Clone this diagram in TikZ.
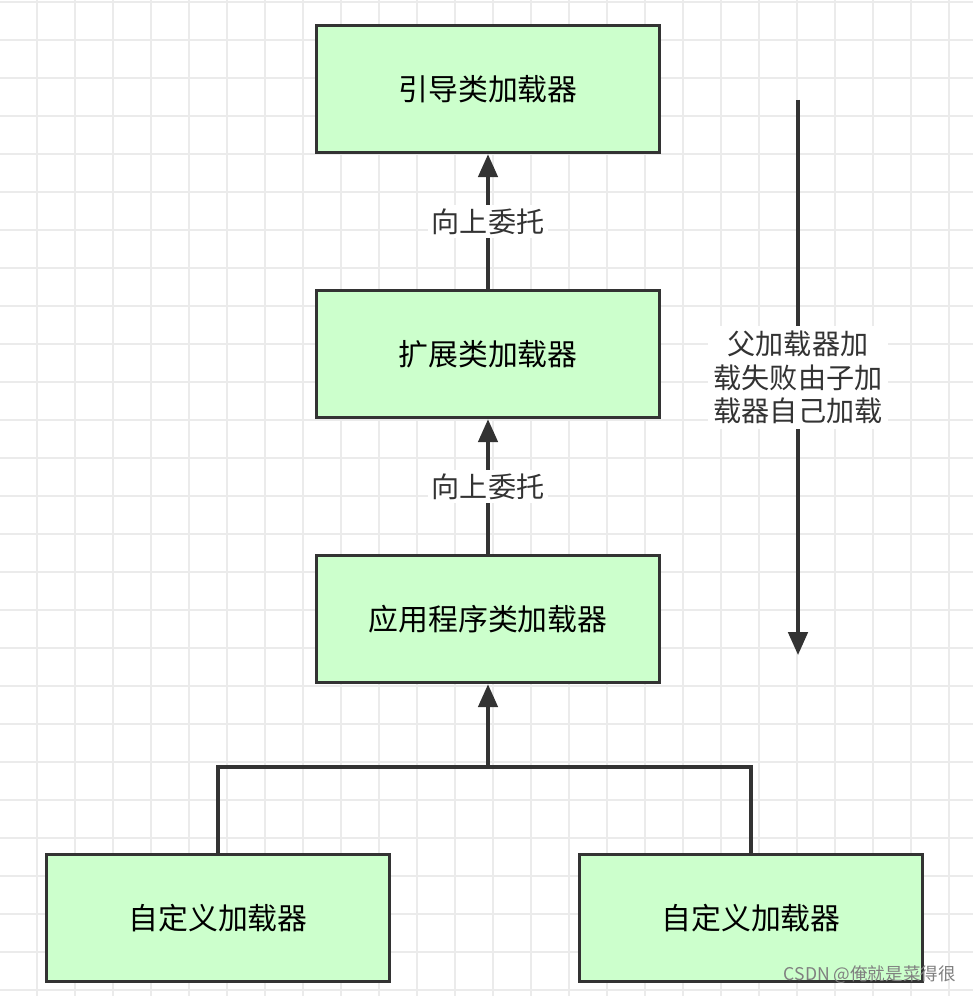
\documentclass[tikz,border=0pt]{standalone}
\usepackage{fontspec}
\setmainfont{Noto Sans CJK SC}
\usetikzlibrary{arrows.meta, positioning}
\definecolor{boxfill}{HTML}{CCFFCC}
\definecolor{boxline}{HTML}{333333}
\definecolor{gridline}{HTML}{EBEBEB}
\tikzset{
  loader/.style={draw=boxline, fill=boxfill, line width=2pt, minimum width=6.86cm, minimum height=2.54cm, font=\fontsize{17}{19}\selectfont},
  link/.style={draw=boxline, line width=2pt},
  up/.style={link, -{Triangle[length=13pt, width=11pt]}},
  tag/.style={fill=white, inner sep=2pt, font=\fontsize{16}{19}\selectfont, text=boxline}
}
\begin{document}
\begin{tikzpicture}[x=0.02cm, y=-0.02cm]
    \useasboundingbox (0,0) rectangle (973,996);
    \fill[white] (0,0) rectangle (973,996);
    % background grid
    \foreach \gx in {0,...,25} \draw[gridline, line width=0.8pt] (37+38*\gx,0) -- (37+38*\gx,996);
    \foreach \gy in {0,...,26} \draw[gridline, line width=0.8pt] (0,2+38*\gy) -- (973,2+38*\gy);

    \node[loader] (boot) at (488,89) {引导类加载器};
    \node[loader] (ext) at (488,354) {扩展类加载器};
    \node[loader] (app) at (488,619) {应用程序类加载器};
    \node[loader] (custA) at (218,918) {自定义加载器};
    \node[loader] (custB) at (751,918) {自定义加载器};

    \draw[up] (ext.north) -- node[tag] {向上委托} (boot.south);
    \draw[up] (app.north) -- node[tag] {向上委托} (ext.south);

    \coordinate (fork) at (488,767);
    \draw[link] (custA.north) |- (fork) -| (custB.north);
    \draw[up] (fork) -- (app.south);

    % fallback direction
    \coordinate (fallTop) at (798,100);
    \coordinate (fallEnd) at (798,655);
    \draw[up] (fallTop) -- node[tag, align=center, inner sep=3pt] {父加载器加\\载失败由子加\\载器自己加载} (fallEnd);

    \node[text=gray, font=\fontsize{10}{12}\selectfont, anchor=east] (mark) at (962,975) {CSDN @俺就是菜得很};
\end{tikzpicture}
\end{document}
